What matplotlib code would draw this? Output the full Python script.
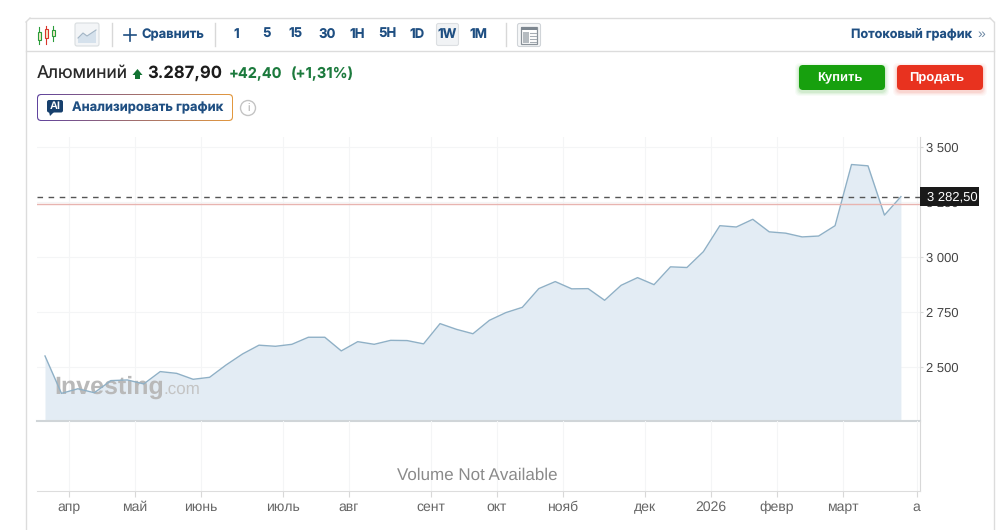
#Aluminium weekly chart, investing.com widget
import matplotlib
matplotlib.use('Agg')
import matplotlib.pyplot as plt
import numpy as np
from matplotlib.patches import FancyBboxPatch, Rectangle, Polygon, Circle

plt.rcParams['font.family'] = ['Liberation Sans', 'DejaVu Sans']
plt.rcParams['text.hinting'] = 'no_hinting'
plt.rcParams['text.hinting_factor'] = 1

# weekly closes
prices = [2550, 2380, 2401, 2383, 2438, 2441, 2423, 2479, 2471, 2444, 2453, 2509, 2559,
          2599, 2594, 2603, 2635, 2635, 2573, 2615, 2603, 2621, 2620, 2605, 2697, 2671,
          2651, 2712, 2747, 2771, 2856, 2888, 2855, 2856, 2803, 2871, 2906, 2874, 2955,
          2952, 3024, 3142, 3136, 3171, 3114, 3108, 3091, 3095, 3142, 3420, 3414, 3190, 3274]
weeks = list(range(len(prices)))
y_ticks = [2500, 2750, 3000, 3250, 3500]
y_labels = ['2 500', '2 750', '3 000', '3 250', '3 500']
month_pos = [1.46, 5.46, 9.46, 14.46, 18.46, 23.46, 27.46, 31.46, 36.46, 40.46, 44.46, 48.46, 52.96]
month_labels = ['апр', 'май', 'июнь', 'июль', 'авг', 'сент', 'окт', 'нояб', 'дек', '2026', 'февр', 'март', 'а']
prev_close = 3240
last_price = 3274
intervals = ['1', '5', '15', '30', '1H', '5H', '1D', '1W', '1M']
interval_x = [236, 266, 296, 327, 357, 387, 417, 447, 478]

W, H = 1000, 530
BLUE = '#1f4f82'
INTER = ['Inter', 'DejaVu Sans']
fig = plt.figure(figsize=(10, 5.3), dpi=100, facecolor='white')

def box(l, t, r, b):
    return [l / W, 1 - b / H, (r - l) / W, (b - t) / H]

# page overlay in pixel coordinates
ui = fig.add_axes([0, 0, 1, 1], zorder=0)
ui.set_xlim(0, W)
ui.set_ylim(H, 0)
ui.axis('off')

# price panel
ax = fig.add_axes(box(37, 137, 920, 421), zorder=1)
ax.patch.set_alpha(0)
ax.set_xlim(-0.486, 53.16)
ax.set_ylim(2254.5, 3545)
ax.set_axisbelow(True)
ax.fill_between(weeks, prices, 2254.5, color='#e3ecf4', lw=0, zorder=1)
ax.plot(weeks, prices, color='#8fb0c6', lw=1.0, zorder=3)
ax.set_xticks(month_pos)
ax.set_yticks(y_ticks)
ax.set_yticklabels(y_labels, fontsize=9.5, color='#444444')
ax.yaxis.tick_right()
ax.tick_params(axis='y', length=2.5, width=0.8, color='#d8d8d8', pad=2)
ax.tick_params(axis='x', length=0, labelbottom=False)
ax.grid(True, color='#f4f5f6', lw=0.8)
for s in ['top', 'left']:
    ax.spines[s].set_visible(False)
ax.spines['right'].set_color('#d8d8d8')
ax.spines['bottom'].set_color('#d0d5d8')
ax.spines['bottom'].set_linewidth(1.5)
ax.axhline(prev_close, color='#e8b4b0', lw=1, zorder=4)
ax.axhline(last_price, color='#555555', lw=1, ls=(0, (4, 4)), zorder=5)
# price tag covers the 3 250 tick label, as on the site
ax.add_patch(Rectangle((1.0, last_price - 43), 59 / 883, 86, transform=ax.get_yaxis_transform(),
                       fc='#1a1a1a', ec='none', zorder=10, clip_on=False))
ax.text(1.0 + 32 / 883, last_price, '3 282,50', transform=ax.get_yaxis_transform(), ha='center',
        va='center', fontsize=9.7, color='white', zorder=11, clip_on=False)

# watermark sits over the fill but under the line
ax.text(54, 387, 'Investing', transform=ui.transData, fontsize=18, fontweight='bold', color='#b9b9b9',
        va='center', zorder=2)
ax.text(163, 389, '.com', transform=ui.transData, fontsize=12.5, color='#c4c4c4', va='center', zorder=2)

# volume panel
vol = fig.add_axes(box(37, 421, 920, 491), zorder=1)
vol.patch.set_alpha(0)
vol.set_xlim(-0.486, 53.16)
vol.set_ylim(0, 1)
vol.set_xticks(month_pos)
vol.set_xticklabels(month_labels, fontsize=10, color='#666666')
vol.set_yticks([])
vol.tick_params(axis='x', length=4, width=0.8, color='#d8d8d8', pad=3)
vol.grid(True, axis='x', color='#f4f5f6', lw=0.8)
for s in ['top', 'left']:
    vol.spines[s].set_visible(False)
vol.spines['right'].set_color('#d8d8d8')
vol.spines['bottom'].set_color('#dddddd')
vol.text(0.499, 0.22, 'Volume Not Available', transform=vol.transAxes, ha='center', va='center',
         fontsize=12.6, color='#8a8a8a')

# frame
ui.plot([26, 26], [530, 22], color='#dcdcdc', lw=1)
ui.plot([994, 994], [530, 22], color='#dcdcdc', lw=1)
ui.plot([30, 990], [18, 18], color='#dcdcdc', lw=1)
ui.plot([26, 994], [51, 51], color='#dcdcdc', lw=1)
ui.plot([26, 30], [22, 18], color='#dcdcdc', lw=1)
ui.plot([990, 994], [18, 22], color='#dcdcdc', lw=1)

# candle icon
for cx, col, t, b, ct, cb in [(39, '#2a9d3a', 27, 44, 32, 40), (46, '#d9362b', 26, 44, 29, 38), (53, '#2a9d3a', 26, 41, 30, 36)]:
    ui.plot([cx, cx], [t, b], color=col, lw=0.8)
    ui.add_patch(Rectangle((cx - 1.5, ct), 3, cb - ct, fc='#f4e9c9', ec=col, lw=0.8, zorder=3))

# area icon
ui.add_patch(FancyBboxPatch((75, 23), 24, 23, boxstyle='round,pad=0,rounding_size=2', fc='#f3f5f7', ec='#d9dde0', lw=0.8))
ui.add_patch(Polygon([(78, 38), (83, 33), (87, 36), (96, 30), (96, 43), (78, 43)], fc='#d5e1ec', ec='none', zorder=3))
ui.plot([78, 83, 87, 96], [38, 33, 36, 30], color='#a3b5c5', lw=0.8, zorder=4)

# toolbar separators
for sx in [112, 215, 505.5]:
    ui.plot([sx, sx], [23, 46], color='#d8d8d8', lw=1)

ui.plot([124, 136], [34.5, 34.5], color=BLUE, lw=1.2)
ui.plot([130, 130], [28.5, 40.5], color=BLUE, lw=1.2)
ui.text(141, 34.5, 'Сравнить', fontsize=9.3, fontweight='bold', color=BLUE, va='center', family=INTER)

ui.add_patch(FancyBboxPatch((436.5, 23.5), 22, 22, boxstyle='round,pad=0,rounding_size=2', fc='#f1f3f5', ec='#dcdfe2', lw=0.8))
for lab, x in zip(intervals, interval_x):
    ui.text(x, 34.5, lab, fontsize=9.5, fontweight='bold', color=BLUE, ha='center', va='center', zorder=4, family=INTER)

# layout icon
ui.add_patch(FancyBboxPatch((517.5, 23.5), 23, 23, boxstyle='round,pad=0,rounding_size=2', fc='#f6f7f8', ec='#d0d4d8', lw=0.8))
ui.add_patch(Rectangle((521, 27), 16, 17, fc='white', ec='#8a9299', lw=0.9, zorder=3))
ui.add_patch(Rectangle((521, 27), 16, 3, fc='#7d8790', ec='none', zorder=4))
ui.add_patch(Rectangle((522.5, 32), 6, 10.5, fc='#b5bbc0', ec='none', zorder=4))
for ly in [33, 36, 39, 42]:
    ui.plot([530, 535.5], [ly, ly], color='#a5acb3', lw=0.8, zorder=4)

ui.text(972, 34.5, 'Потоковый график', fontsize=9.1, fontweight='bold', color=BLUE, ha='right', va='center', family=INTER)
ui.text(981, 34, '»', fontsize=10, color='#6f8aa5', ha='center', va='center')

# instrument header
ui.text(37, 73.5, 'Алюминий', fontsize=12.5, color='#2a2a2a', va='center', family=INTER)
ui.add_patch(Polygon([(137.5, 69), (142.5, 75), (140, 75), (140, 79), (135, 79), (135, 75), (132.5, 75)], fc='#137333', ec='none'))
ui.text(147, 73.5, '3.287,90', fontsize=12, fontweight='bold', color='#1c1c1c', va='center', family=INTER)
ui.text(229, 73.5, '+42,40', fontsize=10.5, fontweight='bold', color='#1c7a3d', va='center', family=INTER)
ui.text(291, 73.5, '(+1,31%)', fontsize=10.6, fontweight='bold', color='#1c7a3d', va='center', family=INTER)

# gradient outlined AI button
btn = FancyBboxPatch((37, 94), 196, 27, boxstyle='round,pad=0,rounding_size=4', fc='none', ec='none')
ui.add_patch(btn)
grad = np.linspace(0, 1, 200)[None, :, None] * (np.array([0.89, 0.60, 0.25]) - np.array([0.38, 0.27, 0.62])) + np.array([0.38, 0.27, 0.62])
im = ui.imshow(grad, extent=[37, 233, 121, 94], aspect='auto', zorder=2)
im.set_clip_path(btn)
ui.set_xlim(0, W)
ui.set_ylim(H, 0)
ui.add_patch(FancyBboxPatch((38, 95), 194, 25, boxstyle='round,pad=0,rounding_size=3.5', fc='white', ec='none', zorder=3))
ui.add_patch(FancyBboxPatch((47, 100), 16, 12.5, boxstyle='round,pad=0,rounding_size=2', fc='#17406d', ec='none', zorder=4))
ui.add_patch(Polygon([(49, 112), (54, 112), (50, 116)], fc='#17406d', ec='none', zorder=4))
ui.text(55, 106.5, 'AI', fontsize=8, fontweight='bold', color='white', ha='center', va='center', zorder=5)
ui.text(72.5, 108, 'Анализировать график', fontsize=9.3, fontweight='bold', color=BLUE, va='center', zorder=5, family=INTER)
ui.add_patch(Circle((248, 108), 7.5, fc='white', ec='#c4c4c4', lw=1))
ui.text(248, 108, 'i', fontsize=8, color='#aaaaaa', ha='center', va='center')

# buy and sell, with a soft glow under each
for bx, col in [(799, '#17a00e'), (897, '#e8321f')]:
    for grow, a in [(4, 0.03), (3, 0.04), (2, 0.06), (1, 0.08)]:
        ui.add_patch(FancyBboxPatch((bx - grow, 65 - grow + 2), 86 + 2 * grow, 25 + 2 * grow,
                                    boxstyle='round,pad=0,rounding_size=5', fc=col, ec='none', alpha=a, zorder=2))
    ui.add_patch(FancyBboxPatch((bx, 65), 86, 25, boxstyle='round,pad=0,rounding_size=4', fc=col, ec='none', zorder=3))
ui.text(840, 77.5, 'Купить', fontsize=9.5, fontweight='bold', color='white', ha='center', va='center', zorder=4)
ui.text(937, 77.5, 'Продать', fontsize=9.5, fontweight='bold', color='white', ha='center', va='center', zorder=4)

fig.savefig('out.png', dpi=100)
